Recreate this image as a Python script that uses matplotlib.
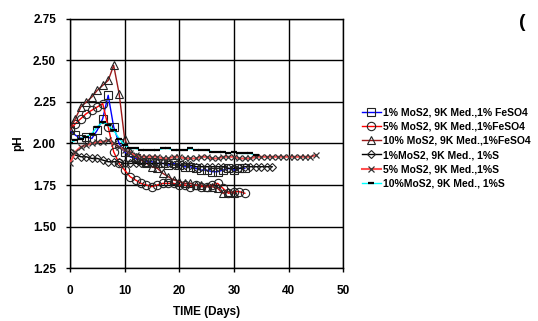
import matplotlib
matplotlib.use("Agg")
import matplotlib.pyplot as plt

plt.rcParams['font.family'] = ['Liberation Sans', 'DejaVu Sans']
plt.rcParams['font.weight'] = 'bold'

# ---- data ----
days_s1 = list(range(0, 33))
ph_s1 = [2.08, 2.05, 2.03, 2.04, 2.03, 2.08, 2.15, 2.29, 2.10, 2.00, 1.95, 1.92, 1.91, 1.90, 1.89,
         1.89, 1.88, 1.88, 1.87, 1.88, 1.87, 1.86, 1.86, 1.85, 1.84, 1.84, 1.83, 1.83, 1.84, 1.85,
         1.84, 1.85, 1.85]

days_s2 = list(range(0, 33))
ph_s2 = [2.08, 2.12, 2.15, 2.18, 2.20, 2.22, 2.24, 2.10, 1.95, 1.88, 1.84, 1.80, 1.78, 1.76, 1.75,
         1.74, 1.75, 1.76, 1.76, 1.76, 1.75, 1.75, 1.74, 1.75, 1.74, 1.74, 1.75, 1.76, 1.73, 1.70,
         1.71, 1.71, 1.70]

days_s3 = list(range(0, 31))
ph_s3 = [2.08, 2.15, 2.22, 2.25, 2.28, 2.32, 2.35, 2.38, 2.47, 2.30, 2.03, 1.95, 1.92, 1.90, 1.88,
         1.86, 1.85, 1.82, 1.80, 1.78, 1.77, 1.76, 1.76, 1.75, 1.75, 1.74, 1.74, 1.73, 1.70, 1.71,
         1.70]

days_s4 = list(range(0, 38))
ph_s4 = [1.95, 1.93, 1.92, 1.92, 1.91, 1.91, 1.90, 1.89, 1.89, 1.89, 1.88, 1.88, 1.88, 1.88, 1.88,
         1.88, 1.88, 1.88, 1.88, 1.87, 1.87, 1.87, 1.87, 1.86, 1.86, 1.86, 1.86, 1.86, 1.86, 1.85,
         1.85, 1.85, 1.86, 1.86, 1.86, 1.86, 1.86, 1.86]

days_s5 = list(range(0, 46))
ph_s5 = [1.88, 1.95, 1.98, 1.99, 2.00, 2.01, 2.01, 2.02, 2.00, 1.98, 1.96, 1.94, 1.93, 1.92, 1.92,
         1.92, 1.92, 1.91, 1.91, 1.92, 1.92, 1.91, 1.91, 1.91, 1.92, 1.92, 1.91, 1.91, 1.92, 1.92,
         1.92, 1.91, 1.91, 1.91, 1.92, 1.92, 1.92, 1.92, 1.92, 1.92, 1.92, 1.92, 1.92, 1.92, 1.92,
         1.93]

days_s6 = list(range(0, 35))
ph_s6 = [2.00, 2.02, 2.03, 2.04, 2.06, 2.10, 2.13, 2.11, 2.08, 2.03, 1.99, 1.97, 1.97, 1.96, 1.96,
         1.96, 1.96, 1.97, 1.97, 1.96, 1.96, 1.96, 1.97, 1.96, 1.96, 1.96, 1.95, 1.95, 1.95, 1.94,
         1.95, 1.94, 1.94, 1.94, 1.93]

labels = ["1% MoS2, 9K Med.,1% FeSO4", "5% MoS2, 9K Med.,1%FeSO4", "10% MoS2, 9K Med.,1%FeSO4",
          "1%MoS2, 9K Med., 1%S", "5% MoS2, 9K Med.,1%S", "10%MoS2, 9K Med., 1%S"]

x_ticks = [0, 10, 20, 30, 40, 50]
y_ticks = [1.25, 1.50, 1.75, 2.00, 2.25, 2.50, 2.75]

fig = plt.figure(figsize=(5.38, 3.21), dpi=100)
ax = fig.add_axes([0.130, 0.165, 0.508, 0.776])

ms = 5.5
ax.plot(days_s1, ph_s1, color='blue', lw=1, marker='s', ms=ms, mfc='none', mec='#222222', mew=0.8,
        label=labels[0], zorder=3)
ax.plot(days_s2, ph_s2, color='red', lw=1, marker='o', ms=ms + 0.5, mfc='none', mec='#222222', mew=0.8,
        label=labels[1], zorder=3)
ax.plot(days_s3, ph_s3, color='#9a1a1a', lw=1, marker='^', ms=ms + 0.5, mfc='none', mec='#222222', mew=0.8,
        label=labels[2], zorder=3)
ax.plot(days_s4, ph_s4, color='black', lw=1, marker='D', ms=4.5, mfc='none', mec='#222222', mew=0.8,
        label=labels[3], zorder=3)
ax.plot(days_s5, ph_s5, color='#ff5050', lw=1.5, marker='x', ms=5, mfc='none', mec='#333333', mew=0.9,
        label=labels[4], zorder=3)
ax.plot(days_s6, ph_s6, color='cyan', lw=1, marker='_', ms=5, mec='black', mew=1.6,
        label=labels[5], zorder=3)

ax.set_xlim(0, 50)
ax.set_ylim(1.25, 2.75)
ax.set_xticks(x_ticks)
ax.set_yticks(y_ticks)
ax.set_yticklabels([f"{v:.2f}" for v in y_ticks])
ax.grid(True, color='black', lw=1)
ax.set_axisbelow(True)
for s in ax.spines.values():
    s.set_linewidth(1)
ax.tick_params(axis='both', direction='out', length=3, width=1, labelsize=8.5)
ax.tick_params(axis='x', pad=9)
ax.tick_params(axis='y', pad=7)
for lab in ax.get_xticklabels() + ax.get_yticklabels():
    lab.set_fontweight('bold')
ax.set_xlabel("TIME (Days)", fontsize=8.5, fontweight='bold', labelpad=7)
ax.set_ylabel("pH", fontsize=8.5, fontweight='bold', labelpad=6)

leg = fig.legend(loc='upper left', bbox_to_anchor=(0.665, 0.678), frameon=False, fontsize=7.5,
                 handlelength=1.8, handletextpad=0.25, labelspacing=0.4, borderaxespad=0)
for t in leg.get_texts():
    t.set_fontweight('bold')

fig.text(0.965, 0.915, "(", fontsize=14, color='black')

fig.savefig("out.png", dpi=100)
